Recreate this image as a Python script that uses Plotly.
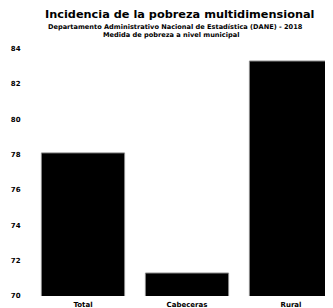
import plotly.graph_objects as go

categories = ["Total", "Cabeceras", "Rural"]
values = [78.1, 71.3, 83.3]
y_ticks = [70, 72, 74, 76, 78, 80, 82, 84]

title_main = "Incidencia de la pobreza multidimensional"
title_sub1 = "Departamento Administrativo Nacional de Estadística (DANE) - 2018"
title_sub2 = "Medida de pobreza a nivel municipal"

# the page body has an 8px margin, so the figure is drawn 8px right and down
OFF = 8
W, H = 333, 308
L, R, T, B = 31 - OFF, 0, 31 - OFF, 12 + OFF
pw, ph = W - L - R, H - T - B


def px_x(x):
    return (x - OFF - L) / pw


def px_y(y):
    return (H - B - (y - OFF)) / ph


x_right = -0.5 + pw / 104.0

fig = go.Figure(go.Bar(
    x=categories, y=values,
    marker=dict(color="black", line=dict(color="#888888", width=1)),
    width=0.8,
))

fig.update_layout(
    width=W, height=H,
    margin=dict(l=L, r=R, t=T, b=B),
    paper_bgcolor="white", plot_bgcolor="white",
    showlegend=False,
    font=dict(family="DejaVu Sans", color="black"),
    annotations=[
        dict(text=f"<b>{title_main}</b>", x=px_x(179), y=px_y(14), xref="paper", yref="paper",
             xanchor="center", yanchor="middle", showarrow=False,
             font=dict(size=11.3, color="black", family="DejaVu Sans")),
        dict(text=f"<b>{title_sub1}</b>", x=px_x(175), y=px_y(27), xref="paper", yref="paper",
             xanchor="center", yanchor="middle", showarrow=False,
             font=dict(size=6.6, color="black", family="DejaVu Sans")),
        dict(text=f"<b>{title_sub2}</b>", x=px_x(171), y=px_y(35), xref="paper", yref="paper",
             xanchor="center", yanchor="middle", showarrow=False,
             font=dict(size=6.6, color="black", family="DejaVu Sans")),
    ],
)
fig.update_xaxes(range=[-0.5, x_right], showgrid=False, showline=False,
                 ticks="outside", ticklen=2, tickcolor="white", automargin=False,
                 tickfont=dict(size=7, color="black", family="DejaVu Sans", weight="bold"))
fig.update_yaxes(range=[70, 85], tickvals=y_ticks, showgrid=False, zeroline=False,
                 showline=False, ticks="outside", ticklen=8, tickcolor="white", automargin=False,
                 tickfont=dict(size=7, color="black", family="DejaVu Sans", weight="bold"))

fig.write_html("out.html")
